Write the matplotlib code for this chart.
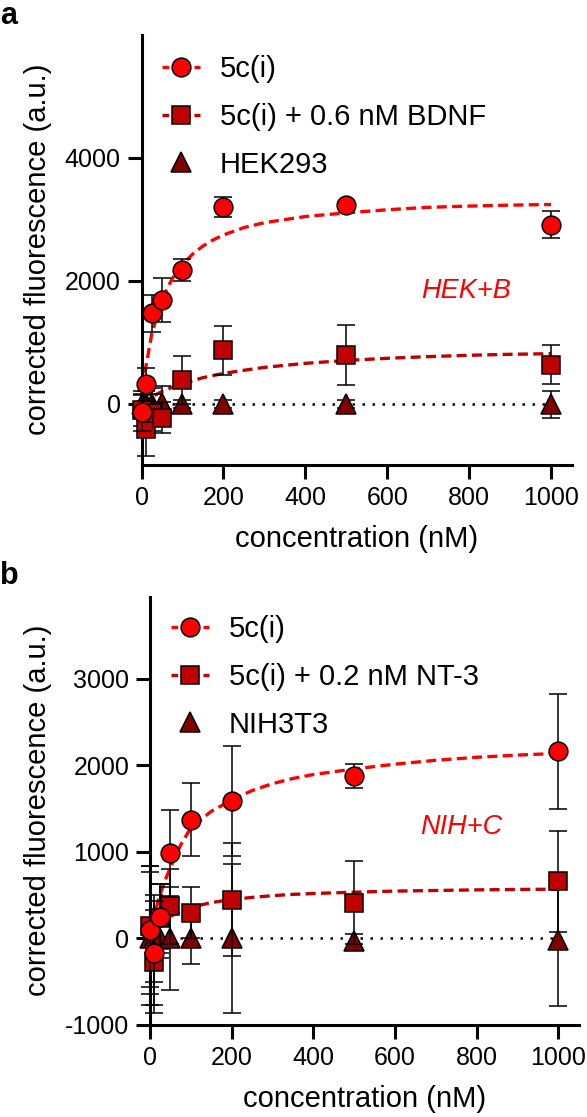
import matplotlib
matplotlib.use("Agg")
import matplotlib.pyplot as plt
from matplotlib.lines import Line2D

plt.rcParams['font.family'] = ['Liberation Sans', 'DejaVu Sans']
plt.rcParams['axes.unicode_minus'] = False

# ---------------- data ----------------
conc = [0, 10, 25, 50, 100, 200, 500, 1000]

# Panel a (HEK293)
a_circle_y = [-140, 310, 1470, 1680, 2170, 3200, 3225, 2910]
a_circle_err = [300, 270, 300, 360, 175, 160, 50, 227]
a_square_y = [-110, -420, -150, -230, 390, 867, 785, 634]
a_square_err = [250, 430, 300, 250, 390, 400, 490, 314]
a_tri_y = [0, 0, 0, 10, -10, -10, -10, -16]
a_tri_err = [200, 200, 250, 270, 60, 60, 60, 220]

a_fit_x = [0, 5, 10, 25, 50, 75, 100, 125, 150, 175, 200, 250, 300, 400, 500, 600, 700, 800, 900, 1000]
a_circle_fit = [0, 310, 570, 1130, 1700, 2030, 2260, 2430, 2560, 2660, 2740, 2860, 2940, 3040, 3100, 3150, 3190, 3210, 3225, 3236]
a_square_fit = [0, 24, 47, 109, 195, 264, 319, 370, 420, 455, 489, 540, 587, 653, 700, 735, 762, 784, 800, 810]

# Panel b (NIH3T3)
b_circle_y = [100, -170, 254, 986, 1372, 1592, 1881, 2162]
b_circle_err = [740, 600, 380, 500, 420, 634, 140, 660]
b_square_y = [139, -266, 235, 370, 300, 447, 416, 659]
b_square_err = [700, 600, 400, 430, 290, 655, 482, 586]
b_tri_y = [0, 0, 0, 0, 0, 0, -30, -15]
b_tri_err = [770, 500, 230, 593, 297, 860, 80, 771]

b_fit_x = [0, 10, 20, 35, 50, 75, 100, 150, 200, 250, 300, 350, 400, 500, 600, 700, 800, 900, 1000]
b_circle_fit = [0, 250, 440, 650, 820, 1080, 1280, 1470, 1600, 1710, 1790, 1850, 1895, 1960, 2015, 2060, 2095, 2120, 2140]
b_square_fit = [0, 76, 140, 210, 255, 315, 360, 415, 450, 475, 495, 510, 520, 535, 548, 555, 562, 567, 570]

zero_line_x = [0, 1028]

a_labels = ['5c(i)', '5c(i) + 0.6 nM BDNF', 'HEK293']
b_labels = ['5c(i)', '5c(i) + 0.2 nM NT-3', 'NIH3T3']
xticks = [0, 200, 400, 600, 800, 1000]
a_yticks = [0, 2000, 4000]
b_yticks = [-1000, 0, 1000, 2000, 3000]

# ---------------- style ----------------
C_CIRCLE = '#FF0000'
C_SQUARE = '#C00000'
C_TRI = '#800000'
W, H = 587, 1117
LBL = 21
TCK = 18

fig = plt.figure(figsize=(W / 100, H / 100), dpi=100)


def px_axes(left, right, bottom, top):
    return fig.add_axes([left / W, 1 - bottom / H, (right - left) / W, (bottom - top) / H])


def panel(ax, circ, circ_e, sq, sq_e, tri, tri_e, fit_x, circ_fit, sq_fit,
          ylim, yticks, labels, note, note_xy, legend_anchor):
    dash = (3, 1.6)
    ax.plot(fit_x, circ_fit, color=C_CIRCLE, lw=2.4, dashes=dash, zorder=2, clip_on=False)
    ax.plot(fit_x, sq_fit, color=C_SQUARE, lw=2.4, dashes=dash, zorder=2, clip_on=False)
    ax.plot(zero_line_x, [0, 0], color='black', lw=1.8, ls=(0, (1, 3)), zorder=1, clip_on=False)

    series = [(tri, tri_e, '^', C_TRI, 3), (sq, sq_e, 's', C_SQUARE, 4), (circ, circ_e, 'o', C_CIRCLE, 5)]
    for y, e, m, c, z in series:
        cont = ax.errorbar(conc, y, yerr=e, fmt='none', ecolor='black', elinewidth=1.1,
                           capsize=6.7, capthick=1.1, zorder=z)
        for art in cont.get_children():
            art.set_clip_on(False)
        ax.plot(conc, y, ls='none', marker=m, ms=13.5 if m != '^' else 14, mfc=c, mec='black',
                mew=1.1, zorder=z + 0.5, clip_on=False)

    ax.set_xlim(0, 1050)
    ax.set_ylim(*ylim)
    ax.set_xticks(xticks)
    ax.set_yticks(yticks)
    for s in ['top', 'right']:
        ax.spines[s].set_visible(False)
    for s in ['left', 'bottom']:
        ax.spines[s].set_linewidth(2.2)
    ax.tick_params(direction='out', length=10, width=2.2, labelsize=TCK, pad=5)

    handles = [
        Line2D([], [], color=C_CIRCLE, lw=2.4, dashes=(2, 1.2), marker='o', ms=13.5, mfc=C_CIRCLE, mec='black', mew=1.1),
        Line2D([], [], color=C_SQUARE, lw=2.4, dashes=(2, 1.2), marker='s', ms=13.5, mfc=C_SQUARE, mec='black', mew=1.1),
        Line2D([], [], ls='none', marker='^', ms=14, mfc=C_TRI, mec='black', mew=1.1),
    ]
    ax.legend(handles, labels, loc='upper left', bbox_to_anchor=legend_anchor,
              bbox_transform=fig.transFigure, frameon=False, fontsize=LBL, handlelength=1.3,
              handletextpad=0.68, labelspacing=0.68, borderpad=0, borderaxespad=0, numpoints=1)
    ax.text(note_xy[0], note_xy[1], note, transform=ax.transAxes, color=C_CIRCLE,
            style='italic', fontsize=19.5, ha='center', va='center')
    ax.text(0.5, -0.172, 'concentration (nM)', transform=ax.transAxes, fontsize=LBL,
            ha='center', va='center')


axa = px_axes(141.5, 571.5, 465, 34.5)
panel(axa, a_circle_y, a_circle_err, a_square_y, a_square_err, a_tri_y, a_tri_err,
      a_fit_x, a_circle_fit, a_square_fit, (-1000, 6000), a_yticks, a_labels,
      'HEK+B', (0.7547, 0.4042), (162 / W, 1 - 55 / H))

axb = px_axes(150, 578.7, 1025, 596.8)
panel(axb, b_circle_y, b_circle_err, b_square_y, b_square_err, b_tri_y, b_tri_err,
      b_fit_x, b_circle_fit, b_square_fit, (-1000, 3950), b_yticks, b_labels,
      'NIH+C', (0.7255, 0.4624), (171 / W, 1 - 615 / H))

fig.text(38 / W, 1 - 249 / H, 'corrected fluorescence (a.u.)', rotation=90,
         ha='center', va='center', fontsize=LBL)
fig.text(38 / W, 1 - 810 / H, 'corrected fluorescence (a.u.)', rotation=90,
         ha='center', va='center', fontsize=LBL)
fig.text(0.0, 1 - 1 / H, 'a', ha='left', va='top', fontsize=22, fontweight='bold')
fig.text(0.0, 1 - 561 / H, 'b', ha='left', va='top', fontsize=22, fontweight='bold')

fig.savefig('out.png', dpi=100)
